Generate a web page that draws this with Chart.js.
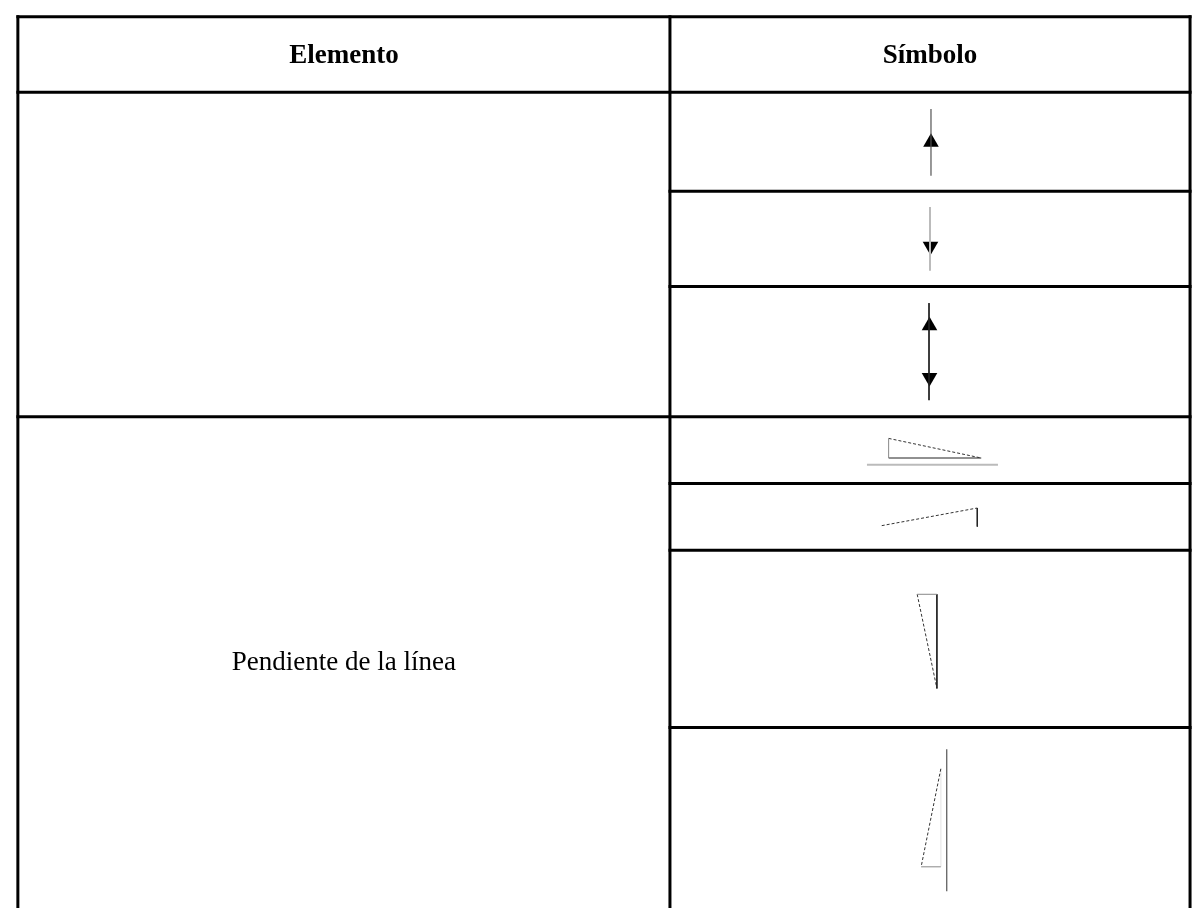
<!DOCTYPE html>
<html>
<head>
<meta charset="utf-8">
<script src="https://cdn.jsdelivr.net/npm/chart.js@4"></script>
<style>
  html, body { margin: 0; padding: 0; background: #fff; }
  canvas { display: block; }
</style>
</head>
<body>
<canvas id="myChart" width="1202" height="917"></canvas>
<script>
const headers = ['Elemento', 'Símbolo'];
const colEdges = [9, 671, 1199];
const headerEdges = [8, 85];
const rowEdges = [85, 186, 283, 416, 484, 552, 733, 918];
const groupLabels = ['', 'Pendiente de la línea'];
const groupSpans = [3, 4];

// symbol strokes, offsets from the centre of the symbol cell: [row, kind, points]
const strokes = [
  [0, 'mid',   [[1, -33.5], [1, 34.5]]],
  [1, 'light', [[0, -32.5], [0, 32.5]]],
  [2, 'dark',  [[-1, -49.5], [-1, 49.5]]],
  [3, 'gray',  [[-42, 8], [-42, -12]]],
  [3, 'dash',  [[-42, -12], [52, 8]]],
  [3, 'dark',  [[-42, 8], [52, 8]]],
  [3, 'light', [[-64, 15], [69, 15]]],
  [4, 'dash',  [[-49, 9], [48, -9]]],
  [4, 'dark',  [[48, -9], [48, 10]]],
  [5, 'gray',  [[-13, -45.5], [7, -45.5]]],
  [5, 'dark',  [[7, -45.5], [7, 50.5]]],
  [5, 'dash',  [[-13, -45.5], [7, 50.5]]],
  [6, 'mid',   [[17, -70.5], [17, 74.5]]],
  [6, 'dash',  [[11, -50.5], [-9, 49.5]]],
  [6, 'gray',  [[-9, 49.5], [11, 49.5]]],
  [6, 'faint', [[11, -50.5], [11, 49.5]]]
];
// arrow heads: [row, dx, dy, direction]
const heads = [
  [0, 1, 0.5, 'up'],
  [1, 0.5, 7.5, 'down'],
  [2, -0.5, -26.5, 'up'],
  [2, -0.5, 26.5, 'down']
];

const strokeStyles = {
  dark:  { color: '#222', width: 1 },
  mid:   { color: '#555', width: 1.2 },
  gray:  { color: '#888', width: 1 },
  light: { color: '#bbb', width: 2 },
  faint: { color: '#eee', width: 1 },
  dash:  { color: '#333', width: 1, dash: [3, 2] }
};

const datasets = [];
function addLine(points, color, width, dash, cap) {
  datasets.push({
    type: 'scatter',
    data: points.map(p => ({ x: p[0], y: p[1] })),
    showLine: true,
    borderColor: color,
    borderWidth: width,
    borderDash: dash || [],
    borderCapStyle: cap || 'butt',
    pointRadius: 0,
    fill: false
  });
}

// table rules
const left = colEdges[0], right = colEdges[colEdges.length - 1];
const bottom = rowEdges[rowEdges.length - 1];
headerEdges.forEach(y => addLine([[left, y], [right, y]], '#000', 3, null, 'square'));
const groupStarts = [0];
groupSpans.forEach(s => groupStarts.push(groupStarts[groupStarts.length - 1] + s));
for (let k = 1; k < rowEdges.length - 1; k++) {
  const from = groupStarts.includes(k) ? left : colEdges[1];
  addLine([[from, rowEdges[k]], [right, rowEdges[k]]], '#000', 3, null, 'square');
}
colEdges.forEach(x => addLine([[x, headerEdges[0]], [x, bottom]], '#000', 3, null, 'square'));

// symbols
const symX = (colEdges[1] + colEdges[2]) / 2;
const rowMid = r => (rowEdges[r] + rowEdges[r + 1]) / 2;
strokes.forEach(([r, kind, pts]) => {
  const st = strokeStyles[kind];
  addLine(pts.map(p => [symX + p[0], rowMid(r) + p[1]]), st.color, st.width, st.dash);
});
heads.forEach(([r, dx, dy, dir]) => {
  datasets.push({
    type: 'scatter',
    data: [{ x: symX + dx, y: rowMid(r) + dy }],
    pointStyle: 'triangle',
    pointRadius: 9,
    pointRotation: dir === 'up' ? 0 : 180,
    backgroundColor: '#000',
    borderWidth: 0
  });
});

const tableText = {
  id: 'tableText',
  afterDatasetsDraw(chart) {
    const { ctx, scales: { x, y } } = chart;
    ctx.save();
    ctx.fillStyle = '#000';
    ctx.textAlign = 'center';
    ctx.textBaseline = 'middle';
    ctx.font = 'bold 27px "Liberation Serif", "Times New Roman", serif';
    headers.forEach((h, i) => {
      ctx.fillText(h,
        x.getPixelForValue((colEdges[i] + colEdges[i + 1]) / 2),
        y.getPixelForValue((headerEdges[0] + headerEdges[1]) / 2) + 1);
    });
    ctx.font = '27px "Liberation Serif", "Times New Roman", serif';
    groupLabels.forEach((label, g) => {
      if (!label) return;
      const top = rowEdges[groupStarts[g]];
      const bot = rowEdges[groupStarts[g] + groupSpans[g]];
      ctx.fillText(label,
        x.getPixelForValue((colEdges[0] + colEdges[1]) / 2),
        y.getPixelForValue((top + bot) / 2));
    });
    ctx.restore();
  }
};

new Chart(document.getElementById('myChart'), {
  type: 'scatter',
  data: { datasets: datasets },
  options: {
    responsive: false,
    animation: false,
    layout: { padding: 0 },
    plugins: { legend: { display: false }, tooltip: { enabled: false } },
    scales: {
      x: { type: 'linear', min: 0, max: 1202, display: false },
      y: { type: 'linear', min: 0, max: 917, reverse: true, display: false }
    }
  },
  plugins: [tableText]
});
</script>
</body>
</html>
